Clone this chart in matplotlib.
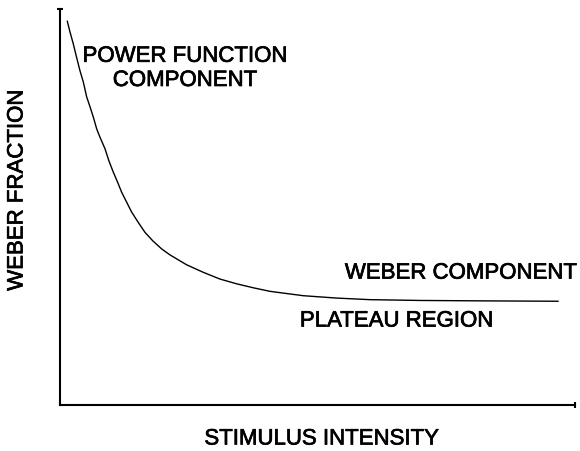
import matplotlib
matplotlib.use('Agg')
import matplotlib.pyplot as plt
import matplotlib.patheffects as pe

plt.rcParams['font.family'] = ['Liberation Sans', 'DejaVu Sans']

# curve (arbitrary units, 0-100 on both axes)
intensity = [1.42, 1.94, 2.58, 3.20, 3.88, 4.52, 5.18, 5.83, 6.47, 7.13,
             7.77, 8.74, 9.51, 10.35, 11.17, 11.98, 12.91, 13.92, 15.15, 16.50,
             18.06, 19.75, 21.36, 24.60, 27.83, 31.07, 34.31, 37.53, 40.78, 47.24,
             53.73, 60.19, 69.90, 81.55, 96.70]
weber_frac = [96.9, 94.2, 91.2, 87.9, 84.4, 81.6, 77.8, 75.3, 72.7, 69.7,
              67.6, 64.7, 61.6, 58.8, 56.3, 53.7, 51.3, 48.7, 46.2, 43.6,
              41.4, 39.4, 37.9, 35.4, 33.5, 31.8, 30.6, 29.6, 28.7, 27.6,
              27.0, 26.6, 26.4, 26.3, 26.2]

fig = plt.figure(figsize=(5.8, 4.52), dpi=100)
ax = fig.add_axes([60/580, 1 - 406/452, 515/580, 396/452])

ax.plot(intensity, weber_frac, color='black', lw=1.0, solid_joinstyle='round')
ax.set_xlim(0, 100)
ax.set_ylim(0, 100)

# axes: only left and bottom lines, small caps at the ends
for s in ['top', 'right']:
    ax.spines[s].set_visible(False)
for s in ['left', 'bottom']:
    ax.spines[s].set_linewidth(1.5)
ax.plot([0], [100], marker='_', ms=5, mew=1.5, color='black', clip_on=False)
ax.plot([100], [0], marker='|', ms=5, mew=1.5, color='black', clip_on=False)
ax.set_xticks([])
ax.set_yticks([])

fs = 16
heavy = [pe.withStroke(linewidth=0.5, foreground='black')]
ax.text(24.3, 85.0, 'POWER FUNCTION\nCOMPONENT', ha='center', va='center',
        fontsize=fs, linespacing=1.2, path_effects=heavy)
ax.text(77.9, 33.3, 'WEBER COMPONENT', ha='center', va='center', fontsize=fs,
        path_effects=heavy)
ax.text(65.4, 21.2, 'PLATEAU REGION', ha='center', va='center', fontsize=fs,
        path_effects=heavy)

fig.text(322/580, 1 - 440/452, 'STIMULUS INTENSITY', ha='center', va='center',
         fontsize=fs, path_effects=heavy)
fig.text(17/580, 1 - 191/452, 'WEBER FRACTION', ha='center', va='center',
         rotation=90, fontsize=fs, path_effects=heavy)

fig.savefig('out.png', dpi=100)
